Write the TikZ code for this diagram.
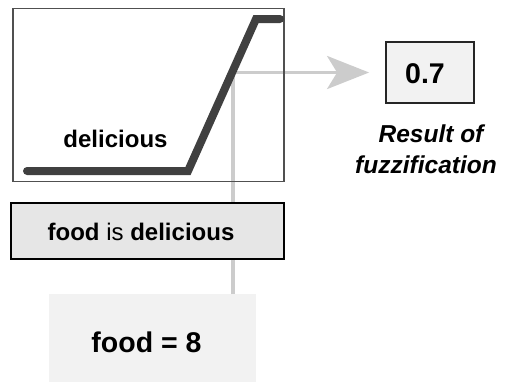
\documentclass[tikz,border=0pt]{standalone}
\usepackage{fontspec}
\setmainfont{Liberation Sans}
\usetikzlibrary{arrows.meta}
\definecolor{conngray}{HTML}{CCCCCC}
\definecolor{curvegray}{HTML}{404040}
\definecolor{boxframe}{HTML}{505050}
\definecolor{fidfill}{HTML}{E6E6E6}
\definecolor{lightfill}{HTML}{F2F2F2}
\tikzset{
  conn/.style={draw=conngray, line width=3.5bp, -{Stealth[length=42bp,width=33bp,inset=10bp]}},
  mfbox/.style={draw=boxframe, line width=1.2bp, inner sep=0pt},
  rulebox/.style={draw=black, line width=1.6bp, fill=fidfill, inner sep=0pt},
  inbox/.style={fill=lightfill, inner sep=0pt},
  resbox/.style={draw=black!85, line width=1.8bp, fill=lightfill, inner sep=0pt},
  curve/.style={draw=curvegray, line width=8bp, line cap=round, line join=miter},
  txt/.style={font=\fontsize{24bp}{29bp}\selectfont\bfseries, anchor=base, inner sep=0pt},
  bigtxt/.style={font=\fontsize{28.5bp}{34bp}\selectfont\bfseries, anchor=base, inner sep=0pt},
}
\begin{document}
\begin{tikzpicture}[x=1bp, y=-1bp]
\useasboundingbox (0,0) rectangle (505,382);
% input box (drawn first, behind)
\node[inbox, minimum width=207bp, minimum height=88bp] (food) at (152.5,338) {};
\node[bigtxt] (foodtxt) at (146.5,352) {food = 8};
% result box
\node[resbox, minimum width=88bp, minimum height=61bp] (res) at (430,72.5) {};
\node[bigtxt] (restxt) at (425,83) {0.7};
% connector
\coordinate (foodtop) at (233,294);
\draw[conn, shorten >=16bp] (foodtop) |- (res.west);
% membership function box
\node[mfbox, minimum width=271bp, minimum height=173bp] (mf) at (148.5,95) {};
\coordinate (c1) at (27,171);
\coordinate (c2) at (188,171);
\coordinate (c3) at (256,19);
\coordinate (c4) at (280,19);
\draw[curve] (c1) -- (c2) -- (c3) -- (c4);
\node[txt] (mflabel) at (115.5,147) {delicious};
% rule box
\node[rulebox, minimum width=273bp, minimum height=56bp] (rule) at (147.5,231) {};
\node[txt] (ruletxt) at (141,240) {food {\mdseries is} delicious};
% caption
\node[txt, font=\fontsize{24.5bp}{31bp}\selectfont\bfseries\itshape] (cap1) at (431,142) {Result of};
\node[txt, font=\fontsize{24.5bp}{31bp}\selectfont\bfseries\itshape] (cap2) at (426,173) {fuzzification};
\end{tikzpicture}
\end{document}
